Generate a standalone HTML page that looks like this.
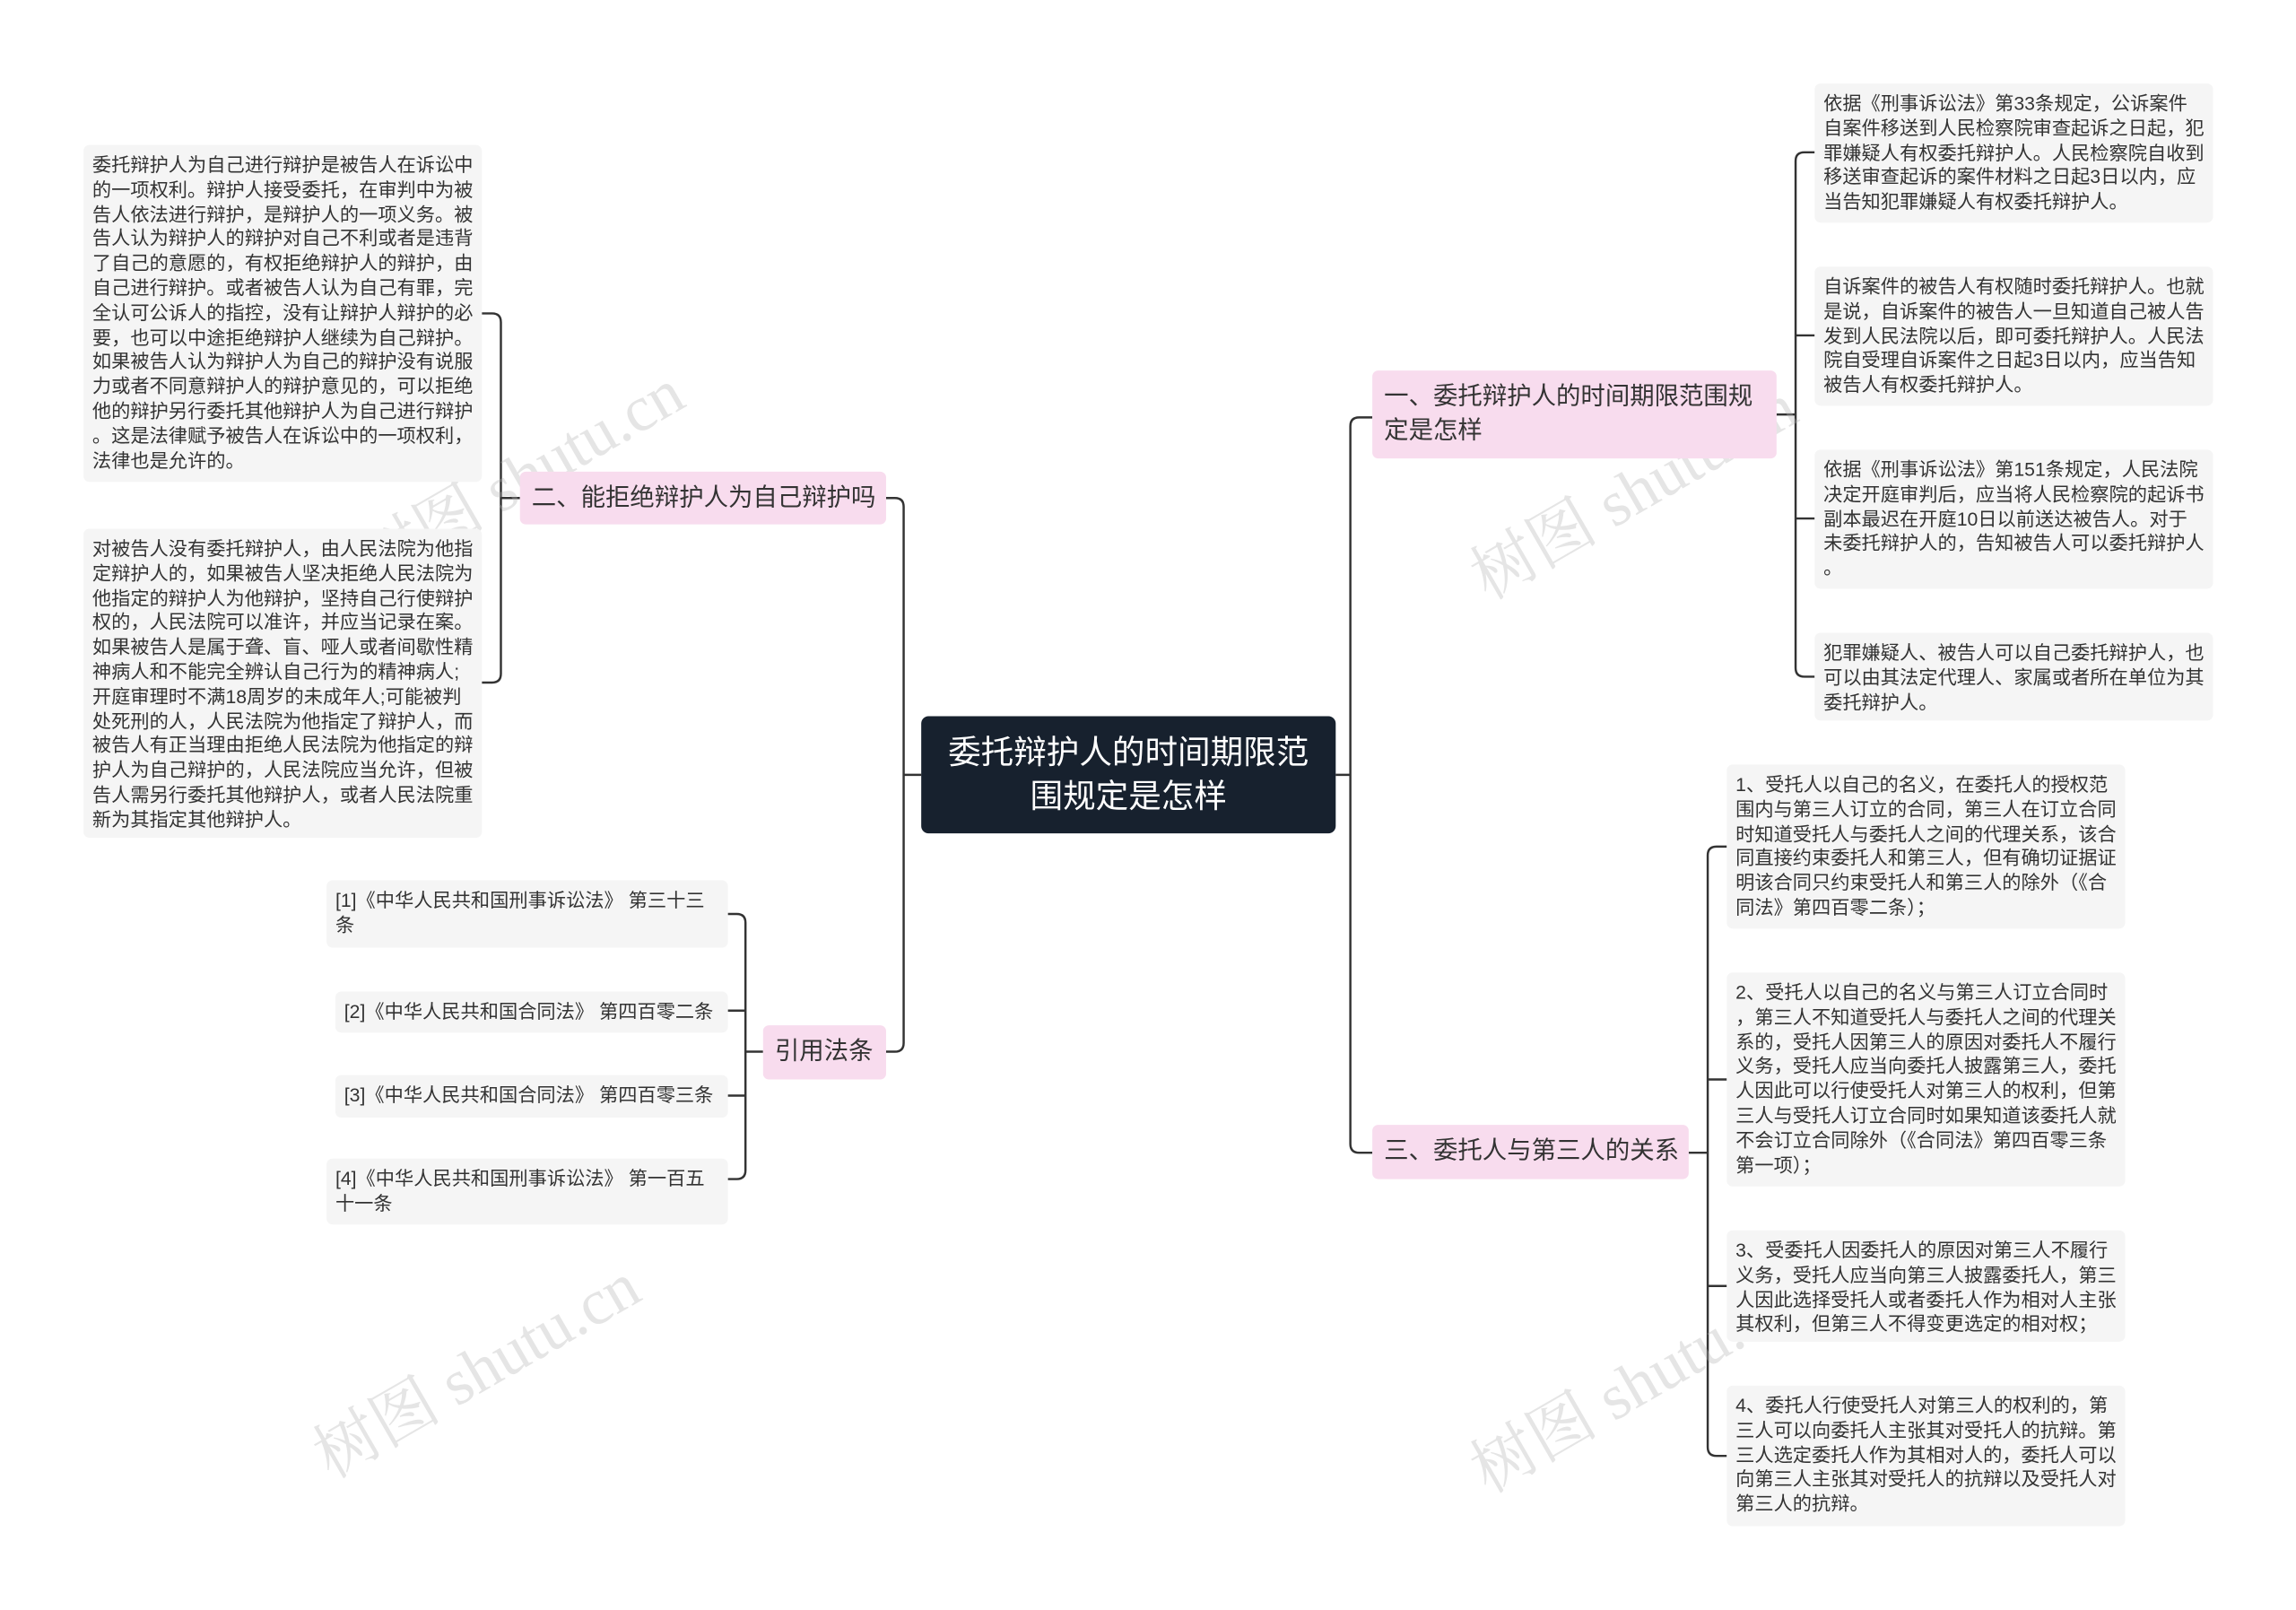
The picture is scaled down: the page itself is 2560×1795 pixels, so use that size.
<!DOCTYPE html>
<html><head><meta charset="utf-8"><style>
html,body{margin:0;padding:0;background:#fff;}
body{width:2560px;height:1794px;overflow:hidden;position:relative;}
#w{position:absolute;left:0;top:0;width:1568px;height:1099px;transform:scale(1.633);transform-origin:0 0;font-family:"Liberation Sans","Noto Sans CJK SC",sans-serif;color:#333;}
.leaf{position:absolute;background:#f5f5f5;border-radius:4px;font-size:13px;line-height:16.8px;padding:6px 6px;box-sizing:border-box;white-space:nowrap;}
.br{position:absolute;background:#f8dcee;border-radius:4px;font-size:16.8px;line-height:23px;padding:6px 8px;box-sizing:border-box;white-space:nowrap;}
.c{position:absolute;left:629px;top:489px;width:283px;height:80px;background:#17212e;border-radius:5px;color:#fff;font-size:22.4px;line-height:30px;text-align:center;padding-top:10px;box-sizing:border-box;}
svg{position:absolute;left:0;top:0;}
.wm{position:absolute;font-size:44px;color:rgba(180,180,180,0.35);transform:rotate(-30deg);white-space:nowrap;font-family:"Liberation Serif","Noto Serif CJK SC",serif;}
</style></head><body><div id="w">
<svg width="1568" height="1099" fill="none" stroke="#333" stroke-width="1.5">
<path d="M912 529H922M922 291V781M928 285H937M928 787H937M922 291Q922 285 928 285M922 781Q922 787 928 787"/>
<path d="M1213 283H1226M1226 110V456M1232 104H1239M1226 110Q1226 104 1232 104M1226 229H1239M1226 354H1239M1226 456Q1226 462 1232 462H1239"/>
<path d="M1153 787H1166M1166 584V988M1172 578H1179M1166 584Q1166 578 1172 578M1166 737H1179M1166 878H1179M1166 988Q1166 994 1172 994H1179"/>
<path d="M629 529H617M617 346V712M611 340H605M617 346Q617 340 611 340M617 712Q617 718 611 718H605"/>
<path d="M355 340H342M342 220V460M336 214H329M342 220Q342 214 336 214M342 460Q342 466 336 466H329"/>
<path d="M521 718H509M509 630V799M503 624H497M509 630Q509 624 503 624M509 690H497M509 748H497M509 799Q509 805 503 805H497"/>
</svg>
<div class="wm" style="left:230px;top:290px">树图 shutu.cn</div>
<div class="wm" style="left:990px;top:300px">树图 shutu.cn</div>
<div class="wm" style="left:200px;top:900px">树图 shutu.cn</div>
<div class="wm" style="left:990px;top:910px">树图 shutu.cn</div>
<div class="c">委托辩护人的时间期限范<br>围规定是怎样</div>
<div class="br" style="left:937px;top:253px;width:276px;height:60px">一、委托辩护人的时间期限范围规<br>定是怎样</div>
<div class="br" style="left:937px;top:768px;width:216px;height:37px">三、委托人与第三人的关系</div>
<div class="br" style="left:355px;top:322px;width:250px;height:36px">二、能拒绝辩护人为自己辩护吗</div>
<div class="br" style="left:521px;top:700px;width:84px;height:37px">引用法条</div>
<div class="leaf" style="left:1239px;top:57px;width:272px;height:95px">依据《刑事诉讼法》第33条规定，公诉案件<br>自案件移送到人民检察院审查起诉之日起，犯<br>罪嫌疑人有权委托辩护人。人民检察院自收到<br>移送审查起诉的案件材料之日起3日以内，应<br>当告知犯罪嫌疑人有权委托辩护人。</div>
<div class="leaf" style="left:1239px;top:182px;width:272px;height:95px">自诉案件的被告人有权随时委托辩护人。也就<br>是说，自诉案件的被告人一旦知道自己被人告<br>发到人民法院以后，即可委托辩护人。人民法<br>院自受理自诉案件之日起3日以内，应当告知<br>被告人有权委托辩护人。</div>
<div class="leaf" style="left:1239px;top:307px;width:272px;height:95px">依据《刑事诉讼法》第151条规定，人民法院<br>决定开庭审判后，应当将人民检察院的起诉书<br>副本最迟在开庭10日以前送达被告人。对于<br>未委托辩护人的，告知被告人可以委托辩护人<br>。</div>
<div class="leaf" style="left:1239px;top:432px;width:272px;height:60px">犯罪嫌疑人、被告人可以自己委托辩护人，也<br>可以由其法定代理人、家属或者所在单位为其<br>委托辩护人。</div>
<div class="leaf" style="left:1179px;top:522px;width:272px;height:112px">1、受托人以自己的名义，在委托人的授权范<br>围内与第三人订立的合同，第三人在订立合同<br>时知道受托人与委托人之间的代理关系，该合<br>同直接约束委托人和第三人，但有确切证据证<br>明该合同只约束受托人和第三人的除外（《合<br>同法》第四百零二条）；</div>
<div class="leaf" style="left:1179px;top:664px;width:272px;height:146px">2、受托人以自己的名义与第三人订立合同时<br>，第三人不知道受托人与委托人之间的代理关<br>系的，受托人因第三人的原因对委托人不履行<br>义务，受托人应当向委托人披露第三人，委托<br>人因此可以行使受托人对第三人的权利，但第<br>三人与受托人订立合同时如果知道该委托人就<br>不会订立合同除外（《合同法》第四百零三条<br>第一项）；</div>
<div class="leaf" style="left:1179px;top:840px;width:272px;height:76px">3、受委托人因委托人的原因对第三人不履行<br>义务，受托人应当向第三人披露委托人，第三<br>人因此选择受托人或者委托人作为相对人主张<br>其权利，但第三人不得变更选定的相对权；</div>
<div class="leaf" style="left:1179px;top:946px;width:272px;height:96px">4、委托人行使受托人对第三人的权利的，第<br>三人可以向委托人主张其对受托人的抗辩。第<br>三人选定委托人作为其相对人的，委托人可以<br>向第三人主张其对受托人的抗辩以及受托人对<br>第三人的抗辩。</div>
<div class="leaf" style="left:57px;top:99px;width:272px;height:230px">委托辩护人为自己进行辩护是被告人在诉讼中<br>的一项权利。辩护人接受委托，在审判中为被<br>告人依法进行辩护，是辩护人的一项义务。被<br>告人认为辩护人的辩护对自己不利或者是违背<br>了自己的意愿的，有权拒绝辩护人的辩护，由<br>自己进行辩护。或者被告人认为自己有罪，完<br>全认可公诉人的指控，没有让辩护人辩护的必<br>要，也可以中途拒绝辩护人继续为自己辩护。<br>如果被告人认为辩护人为自己的辩护没有说服<br>力或者不同意辩护人的辩护意见的，可以拒绝<br>他的辩护另行委托其他辩护人为自己进行辩护<br>。这是法律赋予被告人在诉讼中的一项权利，<br>法律也是允许的。</div>
<div class="leaf" style="left:57px;top:361px;width:272px;height:211px">对被告人没有委托辩护人，由人民法院为他指<br>定辩护人的，如果被告人坚决拒绝人民法院为<br>他指定的辩护人为他辩护，坚持自己行使辩护<br>权的，人民法院可以准许，并应当记录在案。<br>如果被告人是属于聋、盲、哑人或者间歇性精<br>神病人和不能完全辨认自己行为的精神病人;<br>开庭审理时不满18周岁的未成年人;可能被判<br>处死刑的人，人民法院为他指定了辩护人，而<br>被告人有正当理由拒绝人民法院为他指定的辩<br>护人为自己辩护的，人民法院应当允许，但被<br>告人需另行委托其他辩护人，或者人民法院重<br>新为其指定其他辩护人。</div>
<div class="leaf" style="left:223px;top:601px;width:274px;height:46px">[1]《中华人民共和国刑事诉讼法》 第三十三<br>条</div>
<div class="leaf" style="left:229px;top:677px;width:268px;height:28px">[2]《中华人民共和国合同法》 第四百零二条</div>
<div class="leaf" style="left:229px;top:734px;width:268px;height:29px">[3]《中华人民共和国合同法》 第四百零三条</div>
<div class="leaf" style="left:223px;top:791px;width:274px;height:45px">[4]《中华人民共和国刑事诉讼法》 第一百五<br>十一条</div>
</div></body></html>
